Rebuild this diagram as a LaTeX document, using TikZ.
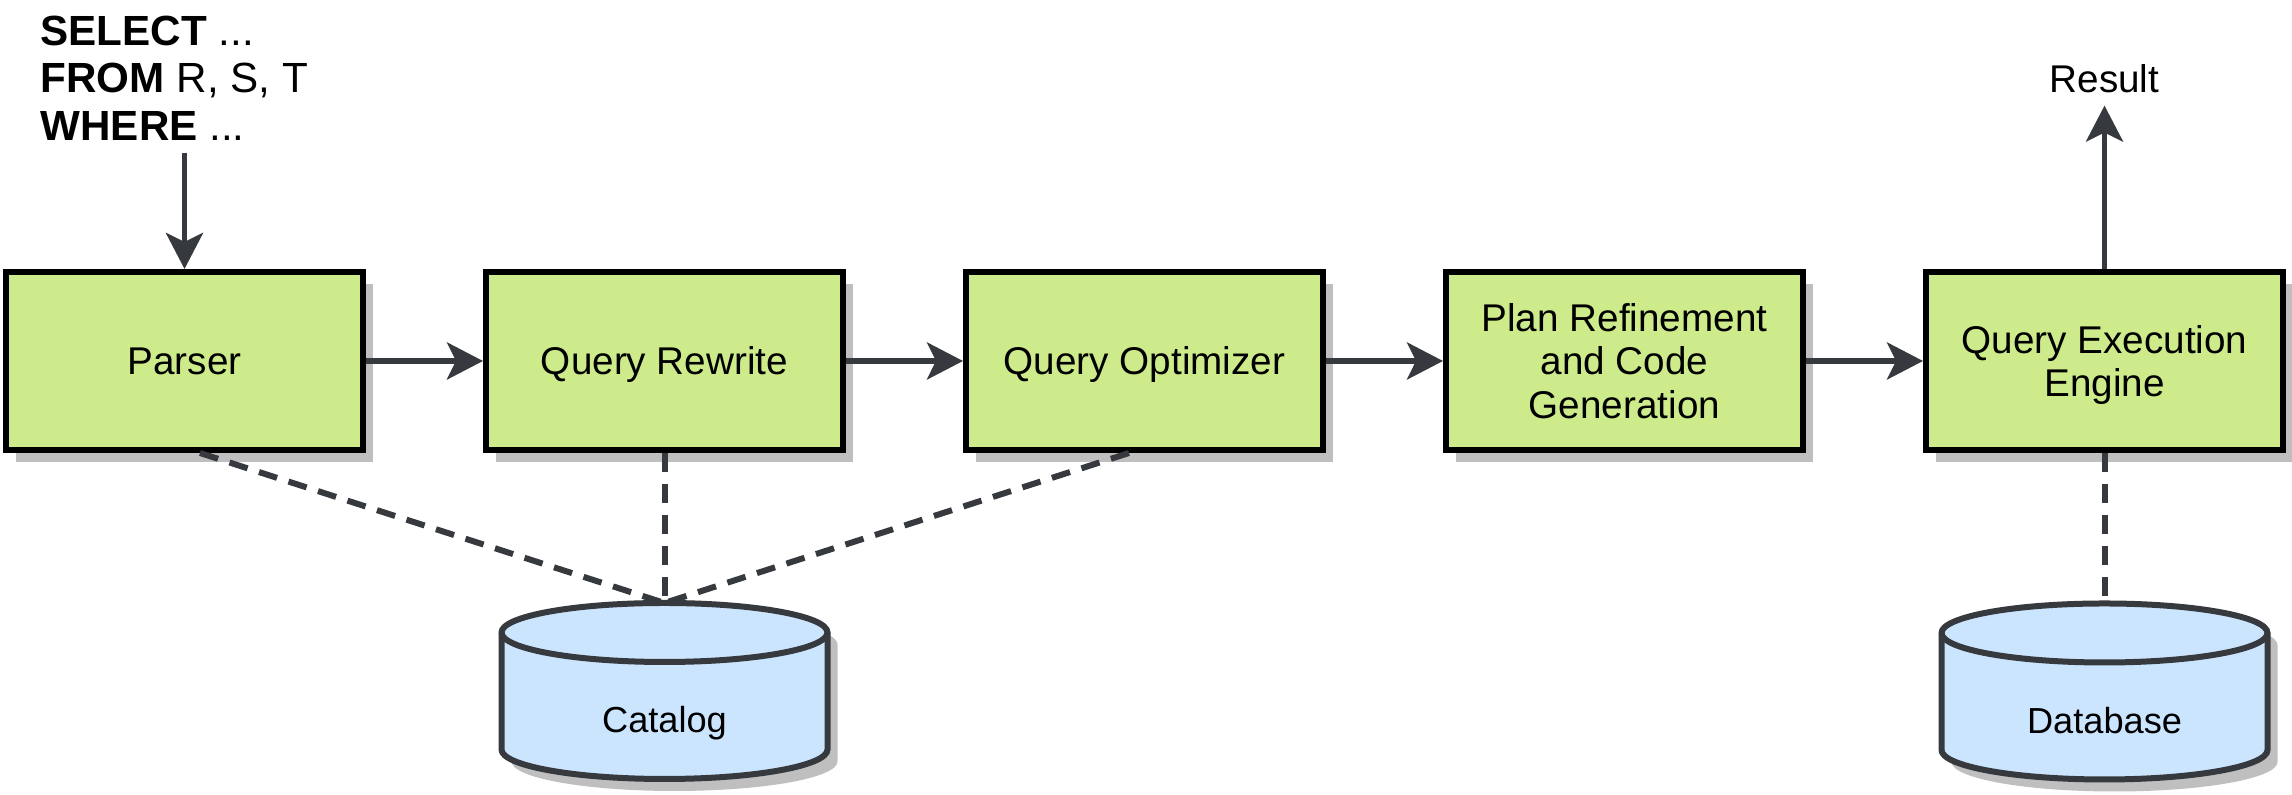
\documentclass[tikz,border=0pt]{standalone}
\usepackage{fontspec}
\setmainfont{Liberation Sans}
\usepackage{tikz}
\usetikzlibrary{positioning, shadows, arrows.meta, calc, backgrounds}
\definecolor{stagegreen}{HTML}{CDEB8B}
\definecolor{storeblue}{HTML}{CCE5FF}
\definecolor{linegray}{HTML}{36393D}
\tikzset{stage/.style={draw=black, fill=stagegreen, line width=0.06cm, minimum width=3.57cm, minimum height=1.78cm, align=center, text depth=0pt, font=\fontsize{11}{12.5}\selectfont, drop shadow={shadow xshift=0.1cm, shadow yshift=-0.12cm, fill=black!25, opacity=1}},
    store/.style={minimum width=3.26cm, minimum height=1.76cm, outer sep=0pt, text height=0.84cm, text depth=0pt, font=\fontsize{10.3}{12}\selectfont},
    storebody/.style={draw=linegray, fill=storeblue, line width=0.06cm},
    storeshadow/.style={fill=black!25},
    flow/.style={-{Stealth[length=0.36cm, width=0.37cm, inset=0.09cm]}, draw=linegray, line width=0.055cm},
    lookup/.style={draw=linegray, line width=0.06cm, dash pattern=on 0.19cm off 0.12cm}}

\begin{document}
\begin{tikzpicture}
    \useasboundingbox (0,0) rectangle (22.92,7.95);
    \node[anchor=north west, inner sep=0, align=left, font=\fontsize{12}{13.5}\selectfont] (query) at (0.40,7.80) {\textbf{SELECT} ...\\\textbf{FROM} R, S, T\\\textbf{WHERE} ...};
    \node[stage] (parser) at (1.845,4.34) {Parser};
    \node[stage] (rewrite) at (6.645,4.34) {Query Rewrite};
    \node[stage] (optimizer) at (11.445,4.34) {Query Optimizer};
    \node[stage] (refine) at (16.245,4.34) {Plan Refinement\\and Code\\Generation};
    \node[stage] (engine) at (21.045,4.34) {Query Execution\\Engine};
    \node[font=\fontsize{11}{12.5}\selectfont] (result) at (21.045,7.16) {Result};
    \node[store] (catalog) at (6.645,1.04) {Catalog};
    \node[store] (database) at (21.045,1.035) {Database};

    % the two stores, drawn under their labels
    \begin{scope}[on background layer]
        \foreach \s in {catalog, database} {
            \path[storeshadow] (\s.north west) ++(0.1,-0.415) -- ++(0,-1.17) arc[start angle=180, end angle=360, x radius=1.63, y radius=0.295] -- ++(0,1.17) arc[start angle=0, end angle=180, x radius=1.63, y radius=0.295] -- cycle;
            \path[storebody] (\s.north west) ++(0,-0.295) -- ++(0,-1.17) arc[start angle=180, end angle=360, x radius=1.63, y radius=0.295] -- ++(0,1.17) arc[start angle=0, end angle=180, x radius=1.63, y radius=0.295] -- cycle;
            \draw[storebody, fill=none] (\s.north west) ++(0,-0.295) arc[start angle=180, end angle=360, x radius=1.63, y radius=0.295];
        }
    \end{scope}

    \draw[flow, shorten <=0.12cm] (parser.north |- query.south) -- (parser.north);
    \foreach \a/\b in {parser/rewrite, rewrite/optimizer, optimizer/refine, refine/engine}
        \draw[flow] (\a) -- (\b);
    \draw[flow] (engine.north) -- (engine.north |- result.south);

    \draw[lookup] ($(parser.south)+(0.155,0)$) -- (catalog.north);
    \draw[lookup] (rewrite) -- (catalog);
    \draw[lookup] ($(optimizer.south)+(-0.155,0)$) -- (catalog.north);
    \draw[lookup] (engine) -- (database);
\end{tikzpicture}
\end{document}
